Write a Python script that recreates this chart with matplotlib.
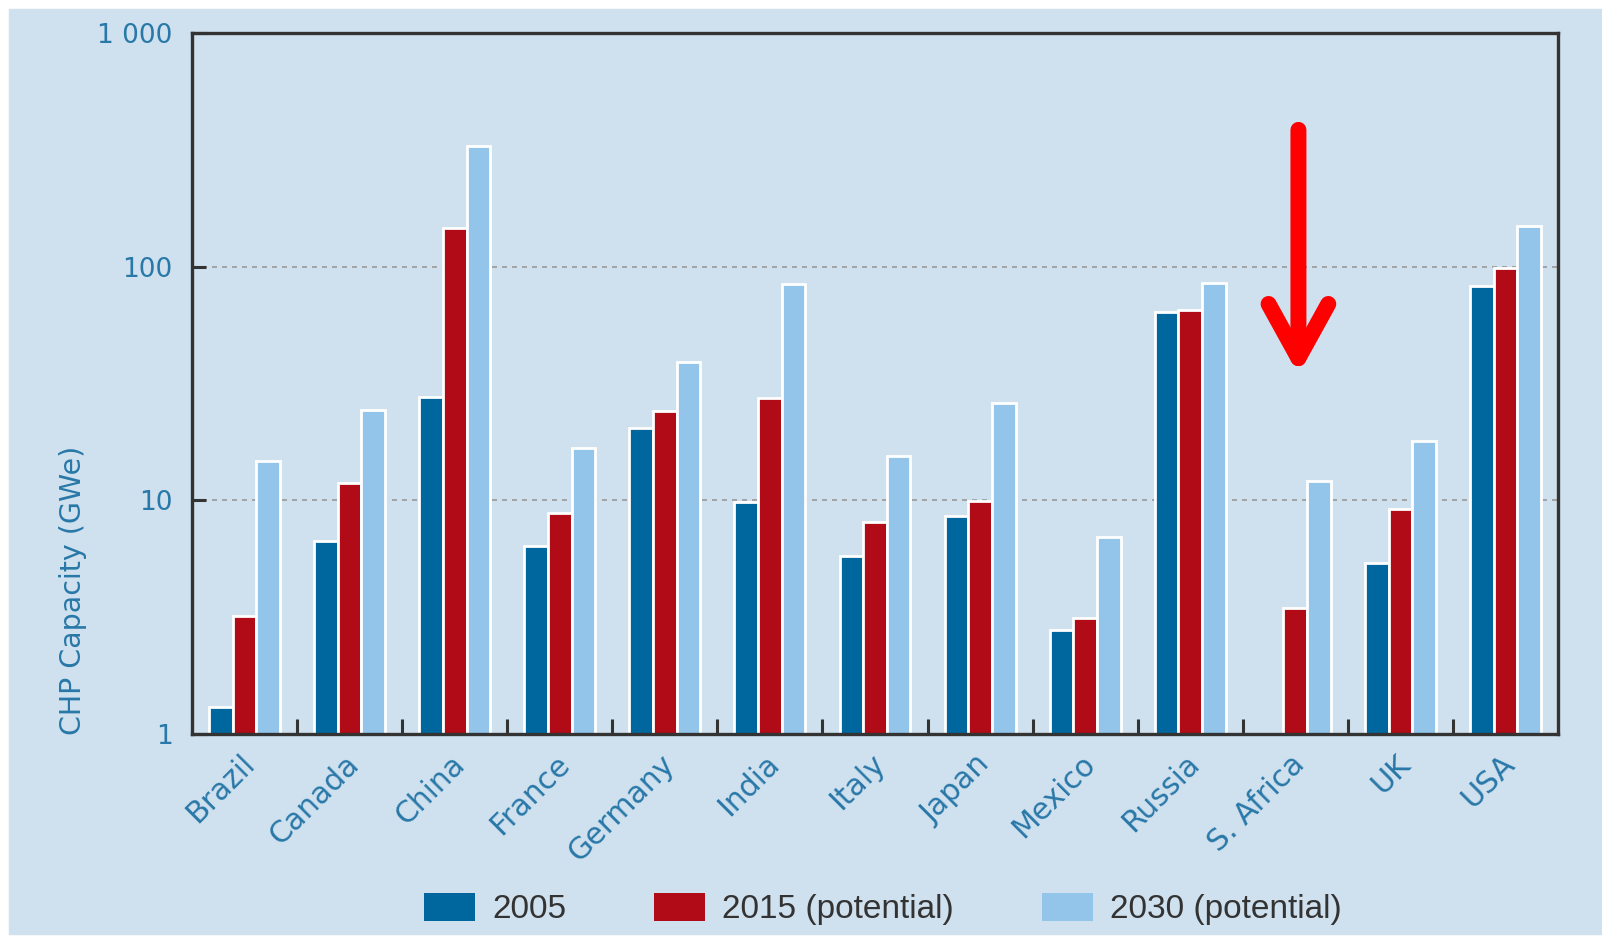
import numpy as np
import matplotlib.pyplot as plt
from matplotlib import font_manager as fm
from matplotlib.patches import Rectangle
from matplotlib.ticker import FixedLocator, NullLocator
from matplotlib.transforms import ScaledTranslation

# datos (GWe)
countries = ["Brazil", "Canada", "China", "France", "Germany", "India", "Italy",
             "Japan", "Mexico", "Russia", "S. Africa", "UK", "USA"]
cap_2005 = [1.3, 6.7, 27.7, 6.4, 20.3, 9.8, 5.8, 8.6, 2.8, 64, np.nan, 5.4, 83]
cap_2015 = [3.2, 11.9, 147, 8.8, 24.1, 27.5, 8.1, 9.9, 3.15, 65, 3.45, 9.2, 98.6]
cap_2030 = [14.7, 24.3, 327, 16.8, 39, 84, 15.5, 26.1, 7.0, 85, 12.1, 18, 150]
series_labels = ["2005", "2015 (potential)", "2030 (potential)"]
y_ticks = [1, 10, 100, 1000]
y_ticklabels = ["1", "10", "100", "1 000"]

bg = "#cfe0ee"
blue_txt = "#2878a8"
colors = ["#00679e", "#b00b17", "#93c5ea"]

# fuente estrecha para la leyenda si existe
leg_font, leg_size = "Liberation Sans", 24
for fam, size in [("Liberation Sans Narrow", 28), ("DejaVu Sans Condensed", 25)]:
    try:
        fm.findfont(fm.FontProperties(family=fam), fallback_to_default=False)
        leg_font, leg_size = fam, size
        break
    except ValueError:
        pass

fig = plt.figure(figsize=(16.02, 9.38), dpi=100, facecolor="white")
fig.patches.append(Rectangle((9 / 1602, 0.004), 1, 1 - 9 / 938 - 0.004,
                             transform=fig.transFigure, color=bg, zorder=-10))

ax = fig.add_axes([0.1199, 0.2175, 0.8526, 0.7473])
ax.set_facecolor(bg)

x = np.arange(len(countries))
w = 0.225
handles = []
for k, vals in enumerate([cap_2005, cap_2015, cap_2030]):
    b = ax.bar(x + (k - 1) * w, vals, width=w, color=colors[k],
               edgecolor="white", linewidth=2, zorder=2, label=series_labels[k])
    handles.append(b)

ax.set_yscale("log")
ax.set_ylim(1, 1000)
ax.set_xlim(-0.5, len(countries) - 0.5)

ax.yaxis.set_major_locator(FixedLocator(y_ticks))
ax.yaxis.set_minor_locator(NullLocator())
ax.set_yticklabels(y_ticklabels)
ax.tick_params(axis="y", which="major", direction="in", length=10, width=2.2,
               color="#333333", labelcolor=blue_txt, labelsize=19, pad=14)

ax.set_xticks(x)
ax.set_xticklabels(countries, rotation=45, ha="right", rotation_mode="anchor")
ax.tick_params(axis="x", which="major", length=0, labelcolor=blue_txt,
               labelsize=21.5, pad=11)
shift = ScaledTranslation(-5 / 100, 0, fig.dpi_scale_trans)
for lab in ax.get_xticklabels():
    lab.set_transform(lab.get_transform() + shift)
ax.set_xticks(x[:-1] + 0.5, minor=True)
ax.tick_params(axis="x", which="minor", direction="in", length=11, width=2.2,
               color="#333333")

for s in ax.spines.values():
    s.set_color("#333333")
    s.set_linewidth(2.4)

ax.grid(axis="y", which="major", linestyle=(0, (3, 3)), color="#9a9a9a",
        linewidth=1.2, zorder=1)

ax.set_ylabel("CHP Capacity (GWe)", color=blue_txt, fontsize=20.5)
ax.yaxis.set_label_coords(-0.077, 0.205)

# flecha roja
ax.annotate("", xy=(10.03, 34.5), xytext=(10.03, 385),
            arrowprops=dict(arrowstyle="->,head_length=3.9,head_width=2.15",
                            color="#ff0000", lw=11.5, capstyle="round",
                            joinstyle="round", shrinkA=0, shrinkB=0),
            zorder=5)

em = leg_size * 100 / 72
leg = fig.legend(handles=handles, labels=series_labels, loc="center",
                 bbox_to_anchor=(0.551, 0.031), ncol=3, frameon=False,
                 handlelength=51 / em, handleheight=31 / em,
                 handletextpad=17 / em, columnspacing=88 / em,
                 prop=dict(family=[leg_font, "DejaVu Sans"], size=leg_size))
for t in leg.get_texts():
    t.set_color("#333333")
for p in leg.get_patches():
    p.set_edgecolor("none")

fig.savefig("out.png", dpi=100, facecolor="white")
